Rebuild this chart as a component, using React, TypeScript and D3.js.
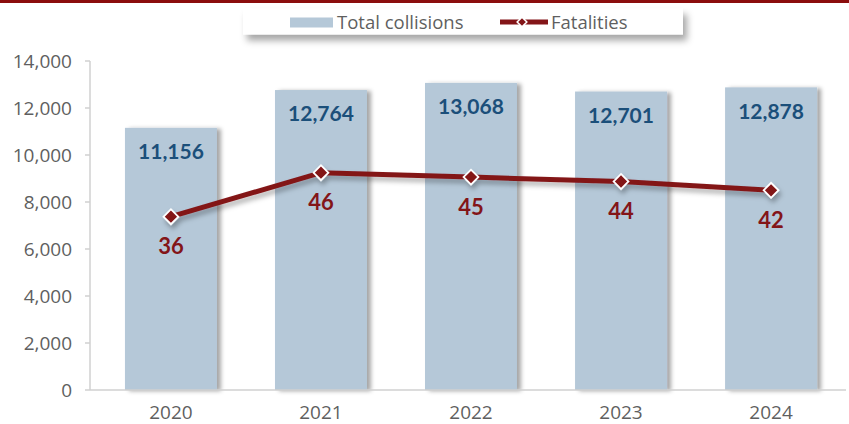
import React from 'react';
import * as d3 from 'd3';

const years = ['2020', '2021', '2022', '2023', '2024'];
const collisions = [11156, 12764, 13068, 12701, 12878];
const fatalities = [36, 46, 45, 44, 42];
const yTicks = [0, 2000, 4000, 6000, 8000, 10000, 12000, 14000];

const width = 849;
const height = 424;
const font = '"Open Sans", Lato, sans-serif';
const labelFont = 'Lato, "Open Sans", sans-serif';
const barColor = '#b5c8d8';
const lineColor = '#831518';
const textGray = '#5f5f5f';

const App: React.FC = () => {
  const x = d3.scaleBand().domain(years).range([96, 846]).paddingInner(0.387).paddingOuter(0.193);
  const y = d3.scaleLinear().domain([0, 14000]).range([390, 61]);
  // secondary (hidden) axis for fatalities
  const y2 = d3.scaleLinear().domain([-3.4, 71.4]).range([390, 61]);
  const fmt = d3.format(',');
  const cx = (i: number) => (x(years[i]) as number) + x.bandwidth() / 2;

  const line = d3.line<number>()
    .x((_, i) => cx(i))
    .y(d => y2(d));

  return (
    <svg width={width} height={height} style={{ position: 'absolute', left: 0, top: 0 }} fontFamily={font}>
      <defs>
        <filter id="barShadow" x="-10%" y="-10%" width="130%" height="120%">
          <feDropShadow dx="4" dy="1" stdDeviation="2" floodColor="#000" floodOpacity="0.35" />
        </filter>
        <filter id="lineShadow" x="-10%" y="-50%" width="120%" height="200%">
          <feDropShadow dx="2" dy="4" stdDeviation="2.5" floodColor="#000" floodOpacity="0.3" />
        </filter>
        <filter id="legendShadow" x="-10%" y="-50%" width="120%" height="250%">
          <feDropShadow dx="4" dy="6" stdDeviation="3.5" floodColor="#000" floodOpacity="0.35" />
        </filter>
      </defs>
      <rect x={0} y={0} width={width} height={height} fill="#fff" />
      <rect x={0} y={0} width={width} height={3} fill="#8b0d0d" />

      {/* legend */}
      <rect x={243} y={8.5} width={440} height={26} fill="#fff" filter="url(#legendShadow)" />
      <rect x={290} y={17.5} width={43} height={10} fill={barColor} />
      <text x={337} y={28.5} fontSize={18.5} fill={textGray}>Total collisions</text>
      <line x1={500} x2={548} y1={22} y2={22} stroke={lineColor} strokeWidth={5} />
      <path d={d3.symbol(d3.symbolDiamond2, 60)() as string} transform="translate(522,22)" fill={lineColor} stroke="#fff" strokeWidth={1.5} />
      <text x={551} y={28.5} fontSize={18.5} fill={textGray}>Fatalities</text>

      {/* y axis */}
      <line x1={90} x2={90} y1={61} y2={390} stroke="#d0d0d0" strokeWidth={1.5} />
      {yTicks.map(t => (
        <g key={t}>
          <line x1={85} x2={90} y1={y(t)} y2={y(t)} stroke="#d0d0d0" strokeWidth={1.5} />
          <text x={72} y={y(t)} dy="0.35em" textAnchor="end" fontSize={19} fill={textGray}>{fmt(t)}</text>
        </g>
      ))}

      {/* bars */}
      {collisions.map((v, i) => (
        <rect key={years[i]} x={x(years[i])} y={y(v)} width={x.bandwidth()} height={y(0) - y(v)} fill={barColor} filter="url(#barShadow)" />
      ))}
      <line x1={90} x2={846} y1={390} y2={390} stroke="#d0d0d0" strokeWidth={1.5} />
      {collisions.map((v, i) => (
        <text key={years[i]} x={cx(i)} y={y(v) + 24} dy="0.35em" textAnchor="middle" fontFamily={labelFont} fontSize={21} fontWeight={700} fill="#1b4f7a">{fmt(v)}</text>
      ))}

      {/* x labels */}
      {years.map((yr, i) => (
        <text key={yr} x={cx(i)} y={412} dy="0.35em" textAnchor="middle" fontSize={19} fill={textGray}>{yr}</text>
      ))}

      {/* fatalities line */}
      <g filter="url(#lineShadow)">
        <path d={line(fatalities) as string} fill="none" stroke={lineColor} strokeWidth={5} />
        {fatalities.map((v, i) => (
          <path key={i} d={d3.symbol(d3.symbolSquare, 110)() as string} transform={`translate(${cx(i)},${y2(v)}) rotate(45)`} fill={lineColor} stroke="#fff" strokeWidth={1.8} />
        ))}
      </g>
      {fatalities.map((v, i) => (
        <text key={i} x={cx(i)} y={y2(v) + 30} dy="0.35em" textAnchor="middle" fontFamily={labelFont} fontSize={22} fontWeight={700} fill={lineColor}>{v}</text>
      ))}
    </svg>
  );
};

export default App;
